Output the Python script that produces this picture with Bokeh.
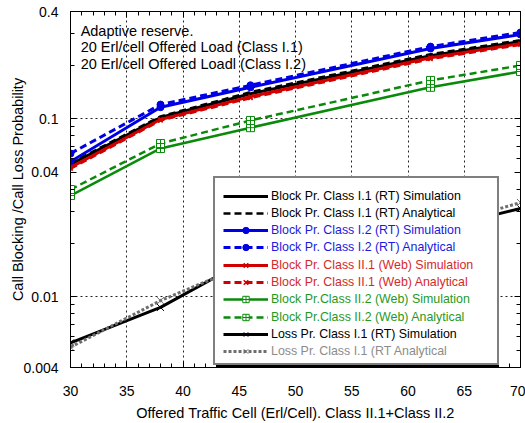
from bokeh.plotting import figure
from bokeh.models import (Range1d, FixedTicker, SingleIntervalTicker, LinearAxis, LogAxis,
                          Legend, LegendItem, Label)
from bokeh.embed import file_html
from bokeh.resources import INLINE

# ---------------- data ----------------
x_load = [30, 38, 46, 62, 70]

rt1_sim = [0.0553, 0.1015, 0.138, 0.226, 0.271]
rt1_anal = [0.0562, 0.1030, 0.141, 0.230, 0.276]
rt2_sim = [0.0574, 0.116, 0.150, 0.248, 0.297]
rt2_anal = [0.0637, 0.120, 0.154, 0.254, 0.305]
web1_sim = [0.0532, 0.0989, 0.133, 0.220, 0.264]
web1_anal = [0.0525, 0.0980, 0.131, 0.217, 0.261]
web2_sim = [0.0370, 0.0680, 0.0890, 0.150, 0.184]
web2_anal = [0.0400, 0.0725, 0.0977, 0.164, 0.199]
loss_sim = [0.0055, 0.0087, 0.0165, 0.0235, 0.0313]
loss_anal = [0.0052, 0.0095, 0.0155, 0.0240, 0.0338]

series_labels = [
    "Block Pr. Class I.1 (RT) Simulation",
    "Block Pr. Class I.1 (RT) Analytical",
    "Block Pr. Class I.2 (RT) Simulation",
    "Block Pr. Class I.2 (RT) Analytical",
    "Block Pr. Class II.1 (Web) Simulation",
    "Block Pr. Class II.1 (Web) Analytical",
    "Block Pr.Class II.2 (Web) Simulation",
    "Block Pr.Class II.2 (Web) Analytical",
    "Loss Pr. Class I.1 (RT) Simulation",
    "Loss Pr. Class I.1 (RT Analytical",
]
series_values = [rt1_sim, rt1_anal, rt2_sim, rt2_anal, web1_sim, web1_anal,
                 web2_sim, web2_anal, loss_sim, loss_anal]

xtick_values = [30, 35, 40, 45, 50, 55, 60, 65, 70]
ytick_values = [0.004, 0.01, 0.05, 0.1, 0.4]
ytick_labels = ["0.004", "0.01", "0.04", "0.1", "0.4"]
ygrid_values = [0.01, 0.1]
y_minor_values = [0.005, 0.006, 0.007, 0.008, 0.009, 0.02, 0.03, 0.04,
                  0.06, 0.07, 0.08, 0.09, 0.2, 0.3]

note_lines = ["Adaptive reserve.",
              "20 Erl/cell Offered Load (Class I.1)",
              "20 Erl/cell Offered Loadl (Class I.2)"]

# ---------------- styles ----------------
BLACK = "#000000"
BLUE = "#0000e6"
RED = "#d00000"
GREEN = "#0a8a0a"
GRAY = "#6e6e6e"
styles = [
    # line color, dash, width, marker, size, fill, marker line width, text color
    (BLACK, "solid", 3, None, 0, None, 1, "#000000"),
    (BLACK, "7 4", 2.5, None, 0, None, 1, "#000000"),
    (BLUE, "solid", 3, "circle", 7, BLUE, 1, "#1a1ae0"),
    (BLUE, "7 4", 3, "circle", 7, BLUE, 1, "#1a1ae0"),
    (RED, "solid", 3, "x", 6, None, 1.5, "#d42a2a"),
    (RED, "7 4", 3, "x", 6, None, 1.5, "#d42a2a"),
    (GREEN, "solid", 2.5, "square_cross", 8, "white", 1, "#1f9a1f"),
    (GREEN, "7 4", 2.5, "square_cross", 8, "white", 1, "#1f9a1f"),
    (BLACK, "solid", 3, "x", 10, None, 1, "#000000"),
    (GRAY, "3 2", 3, "x", 10, None, 1, "#8c8c8c"),
]

FONT = "Liberation Sans"
W, H = 525, 423
BL, BR, BT, BB = 70, 5, 11, 56
FH = H - BT - BB  # frame height

p = figure(width=W, height=H, x_range=Range1d(30, 70), y_range=Range1d(0.004, 0.4),
           y_axis_type="log", output_backend="svg", toolbar_location=None,
           min_border_left=BL, min_border_right=BR, min_border_top=BT, min_border_bottom=BB,
           background_fill_color="white", border_fill_color="white")
p.outline_line_color = "black"
p.outline_line_width = 1

xticker = SingleIntervalTicker(interval=5, num_minor_ticks=5)
yticker = FixedTicker(ticks=ytick_values, minor_ticks=y_minor_values)

for ax in [p.xaxis[0], p.yaxis[0]]:
    ax.major_tick_in = 6
    ax.major_tick_out = 0
    ax.minor_tick_in = 4
    ax.minor_tick_out = 0
    ax.axis_line_color = "black"
    ax.major_label_text_font = FONT
    ax.major_label_text_font_size = "14px"
    ax.major_label_text_color = "black"
    ax.axis_label_text_font = FONT
    ax.axis_label_text_font_size = "14.5px"
    ax.axis_label_text_font_style = "normal"
    ax.axis_label_text_color = "black"

p.xaxis[0].ticker = xticker
p.xaxis[0].major_label_standoff = 18
p.xaxis[0].axis_label = "Offered Traffic Cell (Erl/Cell). Class II.1+Class II.2"
p.xaxis[0].axis_label_standoff = 6

p.yaxis[0].ticker = yticker
p.yaxis[0].major_label_overrides = {v: t for v, t in zip(ytick_values, ytick_labels)}
p.yaxis[0].major_label_standoff = 12
p.yaxis[0].axis_label = "Call Blocking /Call Loss Probability"
p.yaxis[0].axis_label_standoff = -6

# mirrored axes (ticks only, empty labels that are not painted)
top = LinearAxis(ticker=xticker, major_tick_in=6, major_tick_out=0, minor_tick_in=4,
                 minor_tick_out=0, major_label_text_font_size="1px",
                 major_label_overrides={v: "" for v in xtick_values},
                 major_label_text_color=None, major_label_standoff=0)
right = LogAxis(ticker=yticker, major_tick_in=6, major_tick_out=0, minor_tick_in=4,
                minor_tick_out=0, major_label_text_font_size="1px",
                major_label_overrides={v: "" for v in ytick_values},
                major_label_text_color=None, major_label_standoff=0)
p.add_layout(top, "above")
p.add_layout(right, "right")

p.xgrid.ticker = FixedTicker(ticks=xtick_values)
p.ygrid.ticker = FixedTicker(ticks=ygrid_values)
for g in [p.xgrid[0], p.ygrid[0]]:
    g.grid_line_color = "#222222"
    g.grid_line_dash = "2 3"
    g.grid_line_width = 1

# ---------------- series ----------------
row_renderers = []
for ys, st in zip(series_values, styles):
    color, dash, lw, marker, msize, fill, mlw, tcol = st
    rs = [p.line(x_load, ys, line_color=color, line_width=lw, line_dash=dash)]
    if marker:
        rs.append(p.scatter(x_load, ys, marker=marker, size=msize, line_color=color,
                            fill_color=fill, line_width=mlw))
    row_renderers.append(rs)

# ---------------- annotation text ----------------
for i, t in enumerate(note_lines):
    p.add_layout(Label(x=30.9, y=0.4, text=t, y_offset=-19 - 16.5 * i,
                       text_baseline="middle", text_font=FONT,
                       text_font_size="14.5px", text_color="black"))

# ---------------- legend ----------------
dummy = p.line(x=[], y=[], line_alpha=0)
LX = 143          # legend left, from frame left
BOX_TOP = 169     # legend box top, from frame top
BOX_H = 185
BOX_W = 282

shadow = Legend(items=[LegendItem(label=" ", renderers=[dummy])],
                location=(LX + 3, FH - BOX_TOP - BOX_H - 3), padding=7, margin=0,
                glyph_width=0, label_standoff=0, label_width=BOX_W - 14, label_height=BOX_H - 14,
                glyph_height=10, background_fill_color="black", background_fill_alpha=1,
                border_line_alpha=0, label_text_alpha=0)
box = Legend(items=[LegendItem(label=" ", renderers=[dummy])],
             location=(LX, FH - BOX_TOP - BOX_H), padding=7, margin=0,
             glyph_width=0, label_standoff=0, label_width=BOX_W - 14, label_height=BOX_H - 14,
             glyph_height=10, background_fill_color="white", background_fill_alpha=1,
             border_line_color="black", border_line_width=2, label_text_alpha=0)
p.add_layout(shadow)
p.add_layout(box)

ROW0 = 184.5      # first row center, from frame top
PITCH = 17.3
for i, (lbl, rs, st) in enumerate(zip(series_labels, row_renderers, styles)):
    c = ROW0 + PITCH * i
    lg = Legend(items=[LegendItem(label=lbl, renderers=rs)],
                location=(LX, FH - c - 18), padding=10, margin=0,
                glyph_width=45, glyph_height=16, label_height=16, label_standoff=3,
                background_fill_alpha=0, border_line_alpha=0,
                label_text_font=FONT, label_text_font_size="12.4px",
                label_text_color=st[7])
    p.add_layout(lg)

open("out.html", "w").write(file_html(p, INLINE))
